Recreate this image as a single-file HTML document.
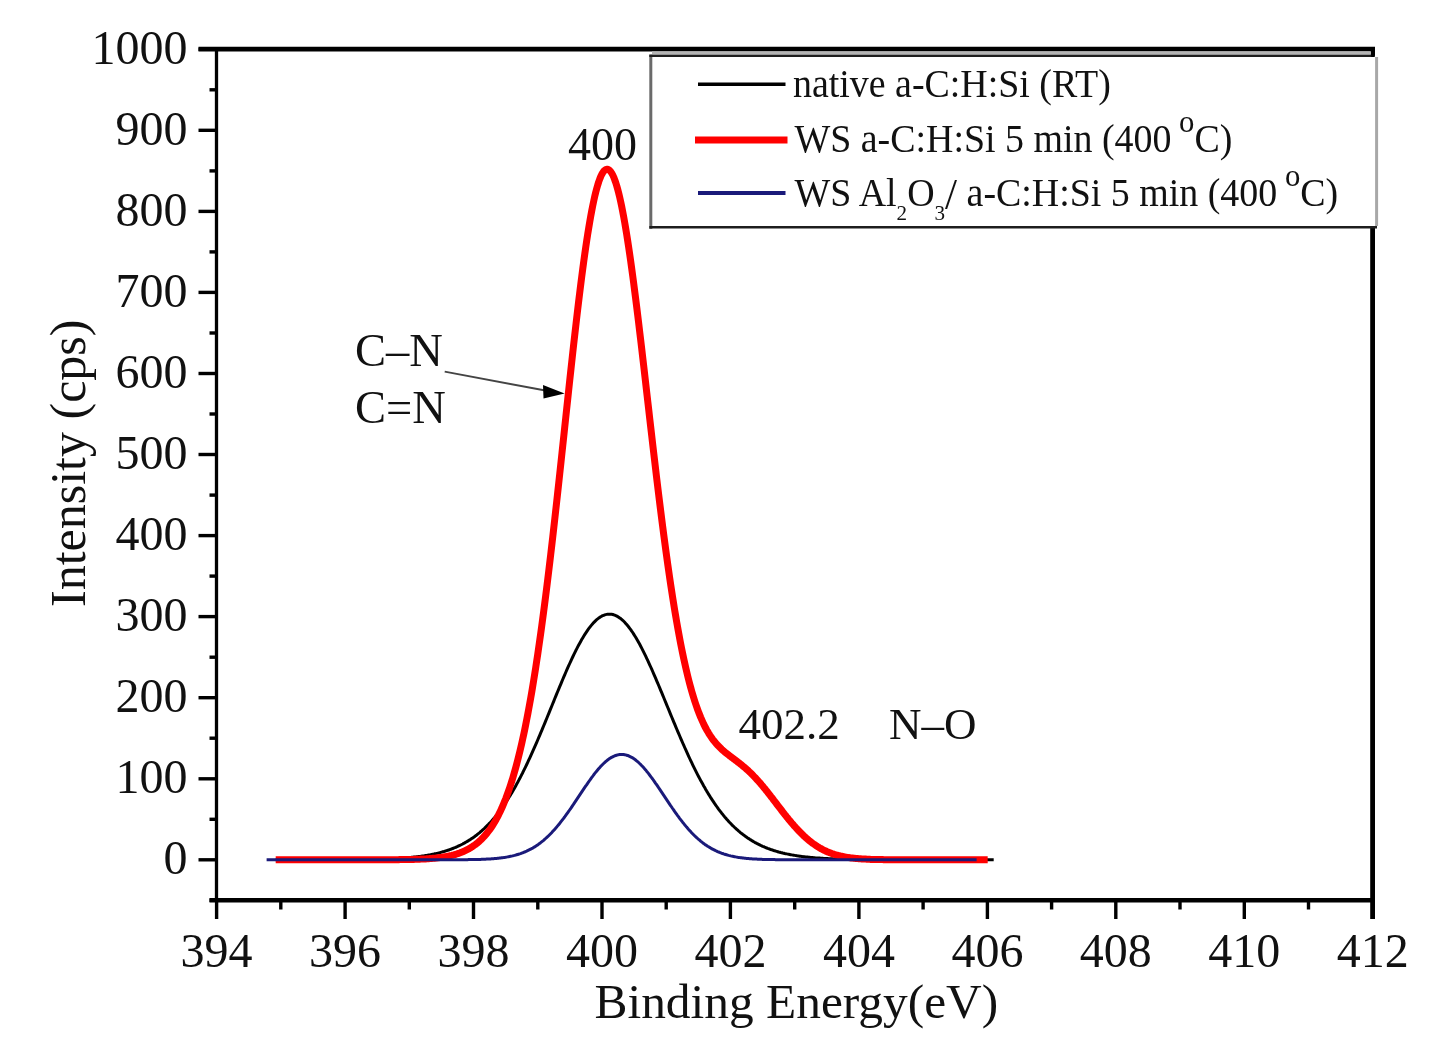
<!DOCTYPE html>
<html><head><meta charset="utf-8"><style>
html,body{margin:0;padding:0;background:#fff;}
svg{display:block;filter:blur(0.7px);}
text{font-family:"Liberation Serif",serif;fill:#111;}
</style></head><body>
<svg width="1451" height="1055" viewBox="0 0 1451 1055">
<rect width="1451" height="1055" fill="#fff"/>
<g fill="none" stroke-linejoin="round">
<path d="M275.7,859.8 L276.7,859.8 L277.7,859.8 L278.7,859.8 L279.7,859.8 L280.7,859.8 L281.7,859.8 L282.7,859.8 L283.7,859.8 L284.7,859.8 L285.7,859.8 L286.7,859.8 L287.7,859.8 L288.7,859.8 L289.7,859.8 L290.7,859.8 L291.7,859.8 L292.7,859.8 L293.7,859.8 L294.7,859.8 L295.7,859.8 L296.7,859.8 L297.7,859.8 L298.7,859.8 L299.7,859.8 L300.7,859.8 L301.7,859.8 L302.7,859.8 L303.7,859.8 L304.7,859.8 L305.7,859.8 L306.7,859.8 L307.7,859.8 L308.7,859.8 L309.7,859.8 L310.7,859.8 L311.7,859.8 L312.7,859.8 L313.7,859.8 L314.7,859.8 L315.7,859.8 L316.7,859.8 L317.7,859.8 L318.7,859.8 L319.7,859.8 L320.7,859.8 L321.7,859.8 L322.7,859.8 L323.7,859.8 L324.7,859.8 L325.7,859.8 L326.7,859.8 L327.7,859.8 L328.7,859.7 L329.7,859.7 L330.7,859.7 L331.7,859.7 L332.7,859.7 L333.7,859.7 L334.7,859.7 L335.7,859.7 L336.7,859.7 L337.7,859.7 L338.7,859.7 L339.7,859.7 L340.7,859.7 L341.7,859.7 L342.7,859.7 L343.7,859.7 L344.7,859.7 L345.7,859.7 L346.7,859.7 L347.7,859.7 L348.7,859.7 L349.7,859.6 L350.7,859.6 L351.7,859.6 L352.7,859.6 L353.7,859.6 L354.7,859.6 L355.7,859.6 L356.7,859.6 L357.7,859.6 L358.7,859.6 L359.7,859.5 L360.7,859.5 L361.7,859.5 L362.7,859.5 L363.7,859.5 L364.7,859.5 L365.7,859.5 L366.7,859.5 L367.7,859.4 L368.7,859.4 L369.7,859.4 L370.7,859.4 L371.7,859.4 L372.7,859.3 L373.7,859.3 L374.7,859.3 L375.7,859.3 L376.7,859.2 L377.7,859.2 L378.7,859.2 L379.7,859.2 L380.7,859.1 L381.7,859.1 L382.7,859.1 L383.7,859.0 L384.7,859.0 L385.7,859.0 L386.7,858.9 L387.7,858.9 L388.7,858.9 L389.7,858.8 L390.7,858.8 L391.7,858.7 L392.7,858.7 L393.7,858.6 L394.7,858.6 L395.7,858.5 L396.7,858.5 L397.7,858.4 L398.7,858.3 L399.7,858.3 L400.7,858.2 L401.7,858.2 L402.7,858.1 L403.7,858.0 L404.7,857.9 L405.7,857.9 L406.7,857.8 L407.7,857.7 L408.7,857.6 L409.7,857.5 L410.7,857.4 L411.7,857.3 L412.7,857.2 L413.7,857.1 L414.7,857.0 L415.7,856.9 L416.7,856.8 L417.7,856.7 L418.7,856.5 L419.7,856.4 L420.7,856.3 L421.7,856.1 L422.7,856.0 L423.7,855.9 L424.7,855.7 L425.7,855.5 L426.7,855.4 L427.7,855.2 L428.7,855.0 L429.7,854.9 L430.7,854.7 L431.7,854.5 L432.7,854.3 L433.7,854.1 L434.7,853.8 L435.7,853.6 L436.7,853.4 L437.7,853.2 L438.7,852.9 L439.7,852.7 L440.7,852.4 L441.7,852.1 L442.7,851.8 L443.7,851.6 L444.7,851.3 L445.7,850.9 L446.7,850.6 L447.7,850.3 L448.7,850.0 L449.7,849.6 L450.7,849.3 L451.7,848.9 L452.7,848.5 L453.7,848.1 L454.7,847.7 L455.7,847.3 L456.7,846.8 L457.7,846.4 L458.7,845.9 L459.7,845.5 L460.7,845.0 L461.7,844.5 L462.7,844.0 L463.7,843.4 L464.7,842.9 L465.7,842.3 L466.7,841.7 L467.7,841.1 L468.7,840.5 L469.7,839.9 L470.7,839.3 L471.7,838.6 L472.7,837.9 L473.7,837.2 L474.7,836.5 L475.7,835.7 L476.7,835.0 L477.7,834.2 L478.7,833.4 L479.7,832.6 L480.7,831.7 L481.7,830.8 L482.7,829.9 L483.7,829.0 L484.7,828.1 L485.7,827.1 L486.7,826.1 L487.7,825.1 L488.7,824.1 L489.7,823.0 L490.7,822.0 L491.7,820.9 L492.7,819.7 L493.7,818.6 L494.7,817.4 L495.7,816.2 L496.7,814.9 L497.7,813.6 L498.7,812.4 L499.7,811.0 L500.7,809.7 L501.7,808.3 L502.7,806.9 L503.7,805.4 L504.7,804.0 L505.7,802.5 L506.7,801.0 L507.7,799.4 L508.7,797.8 L509.7,796.2 L510.7,794.6 L511.7,792.9 L512.7,791.2 L513.7,789.5 L514.7,787.7 L515.7,785.9 L516.7,784.1 L517.7,782.3 L518.7,780.4 L519.7,778.5 L520.7,776.6 L521.7,774.6 L522.7,772.7 L523.7,770.6 L524.7,768.6 L525.7,766.6 L526.7,764.5 L527.7,762.4 L528.7,760.2 L529.7,758.1 L530.7,755.9 L531.7,753.7 L532.7,751.4 L533.7,749.2 L534.7,746.9 L535.7,744.6 L536.7,742.3 L537.7,740.0 L538.7,737.7 L539.7,735.3 L540.7,732.9 L541.7,730.6 L542.7,728.2 L543.7,725.7 L544.7,723.3 L545.7,720.9 L546.7,718.5 L547.7,716.0 L548.7,713.6 L549.7,711.1 L550.7,708.7 L551.7,706.2 L552.7,703.7 L553.7,701.3 L554.7,698.8 L555.7,696.4 L556.7,693.9 L557.7,691.5 L558.7,689.1 L559.7,686.7 L560.7,684.3 L561.7,681.9 L562.7,679.5 L563.7,677.2 L564.7,674.8 L565.7,672.5 L566.7,670.2 L567.7,667.9 L568.7,665.7 L569.7,663.5 L570.7,661.3 L571.7,659.1 L572.7,657.0 L573.7,654.9 L574.7,652.9 L575.7,650.8 L576.7,648.9 L577.7,646.9 L578.7,645.0 L579.7,643.2 L580.7,641.4 L581.7,639.6 L582.7,637.9 L583.7,636.2 L584.7,634.6 L585.7,633.1 L586.7,631.6 L587.7,630.1 L588.7,628.7 L589.7,627.4 L590.7,626.1 L591.7,624.9 L592.7,623.7 L593.7,622.6 L594.7,621.6 L595.7,620.6 L596.7,619.7 L597.7,618.9 L598.7,618.1 L599.7,617.4 L600.7,616.8 L601.7,616.2 L602.7,615.7 L603.7,615.3 L604.7,614.9 L605.7,614.6 L606.7,614.4 L607.7,614.2 L608.7,614.2 L609.7,614.2 L610.7,614.2 L611.7,614.3 L612.7,614.5 L613.7,614.8 L614.7,615.2 L615.7,615.6 L616.7,616.0 L617.7,616.6 L618.7,617.2 L619.7,617.9 L620.7,618.6 L621.7,619.5 L622.7,620.3 L623.7,621.3 L624.7,622.3 L625.7,623.4 L626.7,624.5 L627.7,625.7 L628.7,627.0 L629.7,628.3 L630.7,629.6 L631.7,631.1 L632.7,632.5 L633.7,634.1 L634.7,635.7 L635.7,637.3 L636.7,639.0 L637.7,640.7 L638.7,642.5 L639.7,644.3 L640.7,646.2 L641.7,648.1 L642.7,650.1 L643.7,652.1 L644.7,654.1 L645.7,656.2 L646.7,658.3 L647.7,660.4 L648.7,662.6 L649.7,664.8 L650.7,667.0 L651.7,669.2 L652.7,671.5 L653.7,673.8 L654.7,676.1 L655.7,678.4 L656.7,680.8 L657.7,683.1 L658.7,685.5 L659.7,687.9 L660.7,690.3 L661.7,692.7 L662.7,695.1 L663.7,697.5 L664.7,700.0 L665.7,702.4 L666.7,704.8 L667.7,707.3 L668.7,709.7 L669.7,712.1 L670.7,714.6 L671.7,717.0 L672.7,719.4 L673.7,721.8 L674.7,724.2 L675.7,726.6 L676.7,729.0 L677.7,731.4 L678.7,733.7 L679.7,736.0 L680.7,738.4 L681.7,740.7 L682.7,743.0 L683.7,745.2 L684.7,747.5 L685.7,749.7 L686.7,751.9 L687.7,754.1 L688.7,756.3 L689.7,758.5 L690.7,760.6 L691.7,762.7 L692.7,764.8 L693.7,766.8 L694.7,768.8 L695.7,770.8 L696.7,772.8 L697.7,774.8 L698.7,776.7 L699.7,778.6 L700.7,780.5 L701.7,782.3 L702.7,784.1 L703.7,785.9 L704.7,787.6 L705.7,789.4 L706.7,791.1 L707.7,792.7 L708.7,794.4 L709.7,796.0 L710.7,797.6 L711.7,799.1 L712.7,800.7 L713.7,802.2 L714.7,803.7 L715.7,805.1 L716.7,806.5 L717.7,807.9 L718.7,809.3 L719.7,810.6 L720.7,811.9 L721.7,813.2 L722.7,814.4 L723.7,815.7 L724.7,816.9 L725.7,818.0 L726.7,819.2 L727.7,820.3 L728.7,821.4 L729.7,822.5 L730.7,823.5 L731.7,824.6 L732.7,825.6 L733.7,826.5 L734.7,827.5 L735.7,828.4 L736.7,829.3 L737.7,830.2 L738.7,831.1 L739.7,831.9 L740.7,832.8 L741.7,833.6 L742.7,834.3 L743.7,835.1 L744.7,835.8 L745.7,836.6 L746.7,837.3 L747.7,838.0 L748.7,838.6 L749.7,839.3 L750.7,839.9 L751.7,840.5 L752.7,841.1 L753.7,841.7 L754.7,842.3 L755.7,842.8 L756.7,843.4 L757.7,843.9 L758.7,844.4 L759.7,844.9 L760.7,845.4 L761.7,845.8 L762.7,846.3 L763.7,846.7 L764.7,847.2 L765.7,847.6 L766.7,848.0 L767.7,848.4 L768.7,848.7 L769.7,849.1 L770.7,849.5 L771.7,849.8 L772.7,850.1 L773.7,850.5 L774.7,850.8 L775.7,851.1 L776.7,851.4 L777.7,851.7 L778.7,852.0 L779.7,852.2 L780.7,852.5 L781.7,852.7 L782.7,853.0 L783.7,853.2 L784.7,853.5 L785.7,853.7 L786.7,853.9 L787.7,854.1 L788.7,854.3 L789.7,854.5 L790.7,854.7 L791.7,854.9 L792.7,855.1 L793.7,855.2 L794.7,855.4 L795.7,855.6 L796.7,855.7 L797.7,855.9 L798.7,856.0 L799.7,856.2 L800.7,856.3 L801.7,856.4 L802.7,856.6 L803.7,856.7 L804.7,856.8 L805.7,856.9 L806.7,857.0 L807.7,857.1 L808.7,857.2 L809.7,857.3 L810.7,857.4 L811.7,857.5 L812.7,857.6 L813.7,857.7 L814.7,857.8 L815.7,857.9 L816.7,857.9 L817.7,858.0 L818.7,858.1 L819.7,858.1 L820.7,858.2 L821.7,858.3 L822.7,858.3 L823.7,858.4 L824.7,858.5 L825.7,858.5 L826.7,858.6 L827.7,858.6 L828.7,858.7 L829.7,858.7 L830.7,858.8 L831.7,858.8 L832.7,858.8 L833.7,858.9 L834.7,858.9 L835.7,859.0 L836.7,859.0 L837.7,859.0 L838.7,859.1 L839.7,859.1 L840.7,859.1 L841.7,859.2 L842.7,859.2 L843.7,859.2 L844.7,859.2 L845.7,859.3 L846.7,859.3 L847.7,859.3 L848.7,859.3 L849.7,859.4 L850.7,859.4 L851.7,859.4 L852.7,859.4 L853.7,859.4 L854.7,859.4 L855.7,859.5 L856.7,859.5 L857.7,859.5 L858.7,859.5 L859.7,859.5 L860.7,859.5 L861.7,859.5 L862.7,859.6 L863.7,859.6 L864.7,859.6 L865.7,859.6 L866.7,859.6 L867.7,859.6 L868.7,859.6 L869.7,859.6 L870.7,859.6 L871.7,859.6 L872.7,859.7 L873.7,859.7 L874.7,859.7 L875.7,859.7 L876.7,859.7 L877.7,859.7 L878.7,859.7 L879.7,859.7 L880.7,859.7 L881.7,859.7 L882.7,859.7 L883.7,859.7 L884.7,859.7 L885.7,859.7 L886.7,859.7 L887.7,859.7 L888.7,859.7 L889.7,859.7 L890.7,859.7 L891.7,859.7 L892.7,859.7 L893.7,859.8 L894.7,859.8 L895.7,859.8 L896.7,859.8 L897.7,859.8 L898.7,859.8 L899.7,859.8 L900.7,859.8 L901.7,859.8 L902.7,859.8 L903.7,859.8 L904.7,859.8 L905.7,859.8 L906.7,859.8 L907.7,859.8 L908.7,859.8 L909.7,859.8 L910.7,859.8 L911.7,859.8 L912.7,859.8 L913.7,859.8 L914.7,859.8 L915.7,859.8 L916.7,859.8 L917.7,859.8 L918.7,859.8 L919.7,859.8 L920.7,859.8 L921.7,859.8 L922.7,859.8 L923.7,859.8 L924.7,859.8 L925.7,859.8 L926.7,859.8 L927.7,859.8 L928.7,859.8 L929.7,859.8 L930.7,859.8 L931.7,859.8 L932.7,859.8 L933.7,859.8 L934.7,859.8 L935.7,859.8 L936.7,859.8 L937.7,859.8 L938.7,859.8 L939.7,859.8 L940.7,859.8 L941.7,859.8 L942.7,859.8 L943.7,859.8 L944.7,859.8 L945.7,859.8 L946.7,859.8 L947.7,859.8 L948.7,859.8 L949.7,859.8 L950.7,859.8 L951.7,859.8 L952.7,859.8 L953.7,859.8 L954.7,859.8 L955.7,859.8 L956.7,859.8 L957.7,859.8 L958.7,859.8 L959.7,859.8 L960.7,859.8 L961.7,859.8 L962.7,859.8 L963.7,859.8 L964.7,859.8 L965.7,859.8 L966.7,859.8 L967.7,859.8 L968.7,859.8 L969.7,859.8 L970.7,859.8 L971.7,859.8 L972.7,859.8 L973.7,859.8 L974.7,859.8 L975.7,859.8 L976.7,859.8 L977.7,859.8 L978.7,859.8 L979.7,859.8 L980.7,859.8 L981.7,859.8 L982.7,859.8 L983.7,859.8 L984.7,859.8 L985.7,859.8 L986.7,859.8 L987.7,859.8 L988.7,859.8 L989.7,859.8 L990.7,859.8 L991.7,859.8 L992.7,859.8 L993.7,859.8" stroke="#000" stroke-width="3"/>
<path d="M275.7,859.8 L276.7,859.8 L277.7,859.8 L278.7,859.8 L279.7,859.8 L280.7,859.8 L281.7,859.8 L282.7,859.8 L283.7,859.8 L284.7,859.8 L285.7,859.8 L286.7,859.8 L287.7,859.8 L288.7,859.8 L289.7,859.8 L290.7,859.8 L291.7,859.8 L292.7,859.8 L293.7,859.8 L294.7,859.8 L295.7,859.8 L296.7,859.8 L297.7,859.8 L298.7,859.8 L299.7,859.8 L300.7,859.8 L301.7,859.8 L302.7,859.8 L303.7,859.8 L304.7,859.8 L305.7,859.8 L306.7,859.8 L307.7,859.8 L308.7,859.8 L309.7,859.8 L310.7,859.8 L311.7,859.8 L312.7,859.8 L313.7,859.8 L314.7,859.8 L315.7,859.8 L316.7,859.8 L317.7,859.8 L318.7,859.8 L319.7,859.8 L320.7,859.8 L321.7,859.8 L322.7,859.8 L323.7,859.8 L324.7,859.8 L325.7,859.8 L326.7,859.8 L327.7,859.8 L328.7,859.8 L329.7,859.8 L330.7,859.8 L331.7,859.8 L332.7,859.8 L333.7,859.8 L334.7,859.8 L335.7,859.8 L336.7,859.8 L337.7,859.8 L338.7,859.8 L339.7,859.8 L340.7,859.8 L341.7,859.8 L342.7,859.8 L343.7,859.8 L344.7,859.8 L345.7,859.8 L346.7,859.8 L347.7,859.8 L348.7,859.8 L349.7,859.8 L350.7,859.8 L351.7,859.8 L352.7,859.8 L353.7,859.8 L354.7,859.8 L355.7,859.8 L356.7,859.8 L357.7,859.8 L358.7,859.8 L359.7,859.8 L360.7,859.8 L361.7,859.8 L362.7,859.8 L363.7,859.8 L364.7,859.8 L365.7,859.8 L366.7,859.8 L367.7,859.8 L368.7,859.8 L369.7,859.8 L370.7,859.8 L371.7,859.8 L372.7,859.8 L373.7,859.8 L374.7,859.8 L375.7,859.8 L376.7,859.8 L377.7,859.8 L378.7,859.8 L379.7,859.8 L380.7,859.8 L381.7,859.8 L382.7,859.8 L383.7,859.8 L384.7,859.7 L385.7,859.7 L386.7,859.7 L387.7,859.7 L388.7,859.7 L389.7,859.7 L390.7,859.7 L391.7,859.7 L392.7,859.7 L393.7,859.7 L394.7,859.7 L395.7,859.7 L396.7,859.7 L397.7,859.7 L398.7,859.7 L399.7,859.6 L400.7,859.6 L401.7,859.6 L402.7,859.6 L403.7,859.6 L404.7,859.6 L405.7,859.6 L406.7,859.5 L407.7,859.5 L408.7,859.5 L409.7,859.5 L410.7,859.5 L411.7,859.4 L412.7,859.4 L413.7,859.4 L414.7,859.3 L415.7,859.3 L416.7,859.3 L417.7,859.2 L418.7,859.2 L419.7,859.2 L420.7,859.1 L421.7,859.1 L422.7,859.0 L423.7,859.0 L424.7,858.9 L425.7,858.9 L426.7,858.8 L427.7,858.7 L428.7,858.7 L429.7,858.6 L430.7,858.5 L431.7,858.4 L432.7,858.3 L433.7,858.3 L434.7,858.2 L435.7,858.1 L436.7,857.9 L437.7,857.8 L438.7,857.7 L439.7,857.6 L440.7,857.4 L441.7,857.3 L442.7,857.2 L443.7,857.0 L444.7,856.8 L445.7,856.7 L446.7,856.5 L447.7,856.3 L448.7,856.1 L449.7,855.8 L450.7,855.6 L451.7,855.4 L452.7,855.1 L453.7,854.9 L454.7,854.6 L455.7,854.3 L456.7,854.0 L457.7,853.7 L458.7,853.3 L459.7,853.0 L460.7,852.6 L461.7,852.2 L462.7,851.8 L463.7,851.3 L464.7,850.9 L465.7,850.4 L466.7,849.9 L467.7,849.4 L468.7,848.9 L469.7,848.3 L470.7,847.7 L471.7,847.1 L472.7,846.4 L473.7,845.7 L474.7,845.0 L475.7,844.3 L476.7,843.5 L477.7,842.7 L478.7,841.8 L479.7,840.9 L480.7,840.0 L481.7,839.0 L482.7,838.0 L483.7,836.9 L484.7,835.8 L485.7,834.7 L486.7,833.5 L487.7,832.2 L488.7,830.9 L489.7,829.6 L490.7,828.2 L491.7,826.7 L492.7,825.2 L493.7,823.6 L494.7,821.9 L495.7,820.2 L496.7,818.4 L497.7,816.5 L498.7,814.6 L499.7,812.5 L500.7,810.4 L501.7,808.3 L502.7,806.0 L503.7,803.6 L504.7,801.2 L505.7,798.7 L506.7,796.0 L507.7,793.3 L508.7,790.5 L509.7,787.6 L510.7,784.5 L511.7,781.4 L512.7,778.2 L513.7,774.8 L514.7,771.3 L515.7,767.7 L516.7,764.0 L517.7,760.2 L518.7,756.2 L519.7,752.1 L520.7,747.9 L521.7,743.6 L522.7,739.1 L523.7,734.4 L524.7,729.7 L525.7,724.8 L526.7,719.7 L527.7,714.5 L528.7,709.2 L529.7,703.7 L530.7,698.1 L531.7,692.3 L532.7,686.4 L533.7,680.3 L534.7,674.0 L535.7,667.7 L536.7,661.1 L537.7,654.4 L538.7,647.6 L539.7,640.6 L540.7,633.5 L541.7,626.2 L542.7,618.8 L543.7,611.2 L544.7,603.5 L545.7,595.7 L546.7,587.7 L547.7,579.6 L548.7,571.4 L549.7,563.0 L550.7,554.6 L551.7,546.0 L552.7,537.3 L553.7,528.5 L554.7,519.6 L555.7,510.7 L556.7,501.6 L557.7,492.5 L558.7,483.3 L559.7,474.1 L560.7,464.8 L561.7,455.5 L562.7,446.2 L563.7,436.8 L564.7,427.4 L565.7,418.0 L566.7,408.7 L567.7,399.3 L568.7,390.0 L569.7,380.7 L570.7,371.5 L571.7,362.3 L572.7,353.2 L573.7,344.2 L574.7,335.3 L575.7,326.6 L576.7,317.9 L577.7,309.4 L578.7,301.0 L579.7,292.8 L580.7,284.8 L581.7,276.9 L582.7,269.3 L583.7,261.8 L584.7,254.6 L585.7,247.6 L586.7,240.8 L587.7,234.3 L588.7,228.1 L589.7,222.1 L590.7,216.4 L591.7,211.0 L592.7,205.9 L593.7,201.1 L594.7,196.6 L595.7,192.4 L596.7,188.6 L597.7,185.1 L598.7,181.9 L599.7,179.1 L600.7,176.6 L601.7,174.5 L602.7,172.7 L603.7,171.3 L604.7,170.3 L605.7,169.6 L606.7,169.3 L607.7,169.3 L608.7,169.7 L609.7,170.5 L610.7,171.6 L611.7,173.1 L612.7,174.9 L613.7,177.1 L614.7,179.7 L615.7,182.5 L616.7,185.7 L617.7,189.3 L618.7,193.1 L619.7,197.3 L620.7,201.7 L621.7,206.5 L622.7,211.6 L623.7,216.9 L624.7,222.5 L625.7,228.4 L626.7,234.5 L627.7,240.9 L628.7,247.5 L629.7,254.3 L630.7,261.3 L631.7,268.5 L632.7,275.9 L633.7,283.4 L634.7,291.2 L635.7,299.0 L636.7,307.0 L637.7,315.2 L638.7,323.4 L639.7,331.8 L640.7,340.2 L641.7,348.7 L642.7,357.3 L643.7,365.9 L644.7,374.6 L645.7,383.3 L646.7,392.1 L647.7,400.8 L648.7,409.5 L649.7,418.3 L650.7,427.0 L651.7,435.7 L652.7,444.3 L653.7,452.9 L654.7,461.4 L655.7,469.9 L656.7,478.3 L657.7,486.6 L658.7,494.9 L659.7,503.0 L660.7,511.0 L661.7,519.0 L662.7,526.8 L663.7,534.5 L664.7,542.0 L665.7,549.5 L666.7,556.8 L667.7,564.0 L668.7,571.0 L669.7,577.9 L670.7,584.7 L671.7,591.3 L672.7,597.7 L673.7,604.0 L674.7,610.2 L675.7,616.2 L676.7,622.0 L677.7,627.7 L678.7,633.2 L679.7,638.6 L680.7,643.8 L681.7,648.9 L682.7,653.8 L683.7,658.5 L684.7,663.1 L685.7,667.5 L686.7,671.8 L687.7,676.0 L688.7,680.0 L689.7,683.8 L690.7,687.5 L691.7,691.1 L692.7,694.5 L693.7,697.8 L694.7,701.0 L695.7,704.0 L696.7,706.9 L697.7,709.7 L698.7,712.4 L699.7,714.9 L700.7,717.4 L701.7,719.7 L702.7,721.9 L703.7,724.1 L704.7,726.1 L705.7,728.0 L706.7,729.9 L707.7,731.6 L708.7,733.3 L709.7,734.9 L710.7,736.4 L711.7,737.9 L712.7,739.3 L713.7,740.6 L714.7,741.8 L715.7,743.0 L716.7,744.2 L717.7,745.3 L718.7,746.3 L719.7,747.3 L720.7,748.3 L721.7,749.3 L722.7,750.2 L723.7,751.0 L724.7,751.9 L725.7,752.7 L726.7,753.5 L727.7,754.3 L728.7,755.1 L729.7,755.9 L730.7,756.6 L731.7,757.4 L732.7,758.1 L733.7,758.9 L734.7,759.6 L735.7,760.4 L736.7,761.1 L737.7,761.9 L738.7,762.7 L739.7,763.4 L740.7,764.2 L741.7,765.0 L742.7,765.9 L743.7,766.7 L744.7,767.5 L745.7,768.4 L746.7,769.3 L747.7,770.2 L748.7,771.1 L749.7,772.1 L750.7,773.0 L751.7,774.0 L752.7,775.0 L753.7,776.1 L754.7,777.1 L755.7,778.2 L756.7,779.3 L757.7,780.4 L758.7,781.5 L759.7,782.6 L760.7,783.8 L761.7,785.0 L762.7,786.1 L763.7,787.4 L764.7,788.6 L765.7,789.8 L766.7,791.1 L767.7,792.3 L768.7,793.6 L769.7,794.9 L770.7,796.2 L771.7,797.4 L772.7,798.7 L773.7,800.1 L774.7,801.4 L775.7,802.7 L776.7,804.0 L777.7,805.3 L778.7,806.6 L779.7,807.9 L780.7,809.2 L781.7,810.5 L782.7,811.8 L783.7,813.1 L784.7,814.4 L785.7,815.6 L786.7,816.9 L787.7,818.1 L788.7,819.4 L789.7,820.6 L790.7,821.8 L791.7,823.0 L792.7,824.1 L793.7,825.3 L794.7,826.4 L795.7,827.5 L796.7,828.6 L797.7,829.7 L798.7,830.8 L799.7,831.8 L800.7,832.8 L801.7,833.8 L802.7,834.8 L803.7,835.8 L804.7,836.7 L805.7,837.6 L806.7,838.5 L807.7,839.3 L808.7,840.2 L809.7,841.0 L810.7,841.8 L811.7,842.6 L812.7,843.3 L813.7,844.0 L814.7,844.7 L815.7,845.4 L816.7,846.1 L817.7,846.7 L818.7,847.3 L819.7,847.9 L820.7,848.5 L821.7,849.0 L822.7,849.6 L823.7,850.1 L824.7,850.6 L825.7,851.0 L826.7,851.5 L827.7,851.9 L828.7,852.3 L829.7,852.7 L830.7,853.1 L831.7,853.5 L832.7,853.8 L833.7,854.2 L834.7,854.5 L835.7,854.8 L836.7,855.1 L837.7,855.3 L838.7,855.6 L839.7,855.8 L840.7,856.1 L841.7,856.3 L842.7,856.5 L843.7,856.7 L844.7,856.9 L845.7,857.1 L846.7,857.3 L847.7,857.4 L848.7,857.6 L849.7,857.7 L850.7,857.9 L851.7,858.0 L852.7,858.1 L853.7,858.2 L854.7,858.3 L855.7,858.4 L856.7,858.5 L857.7,858.6 L858.7,858.7 L859.7,858.8 L860.7,858.8 L861.7,858.9 L862.7,859.0 L863.7,859.0 L864.7,859.1 L865.7,859.1 L866.7,859.2 L867.7,859.2 L868.7,859.3 L869.7,859.3 L870.7,859.4 L871.7,859.4 L872.7,859.4 L873.7,859.5 L874.7,859.5 L875.7,859.5 L876.7,859.5 L877.7,859.6 L878.7,859.6 L879.7,859.6 L880.7,859.6 L881.7,859.6 L882.7,859.6 L883.7,859.7 L884.7,859.7 L885.7,859.7 L886.7,859.7 L887.7,859.7 L888.7,859.7 L889.7,859.7 L890.7,859.7 L891.7,859.7 L892.7,859.7 L893.7,859.7 L894.7,859.7 L895.7,859.8 L896.7,859.8 L897.7,859.8 L898.7,859.8 L899.7,859.8 L900.7,859.8 L901.7,859.8 L902.7,859.8 L903.7,859.8 L904.7,859.8 L905.7,859.8 L906.7,859.8 L907.7,859.8 L908.7,859.8 L909.7,859.8 L910.7,859.8 L911.7,859.8 L912.7,859.8 L913.7,859.8 L914.7,859.8 L915.7,859.8 L916.7,859.8 L917.7,859.8 L918.7,859.8 L919.7,859.8 L920.7,859.8 L921.7,859.8 L922.7,859.8 L923.7,859.8 L924.7,859.8 L925.7,859.8 L926.7,859.8 L927.7,859.8 L928.7,859.8 L929.7,859.8 L930.7,859.8 L931.7,859.8 L932.7,859.8 L933.7,859.8 L934.7,859.8 L935.7,859.8 L936.7,859.8 L937.7,859.8 L938.7,859.8 L939.7,859.8 L940.7,859.8 L941.7,859.8 L942.7,859.8 L943.7,859.8 L944.7,859.8 L945.7,859.8 L946.7,859.8 L947.7,859.8 L948.7,859.8 L949.7,859.8 L950.7,859.8 L951.7,859.8 L952.7,859.8 L953.7,859.8 L954.7,859.8 L955.7,859.8 L956.7,859.8 L957.7,859.8 L958.7,859.8 L959.7,859.8 L960.7,859.8 L961.7,859.8 L962.7,859.8 L963.7,859.8 L964.7,859.8 L965.7,859.8 L966.7,859.8 L967.7,859.8 L968.7,859.8 L969.7,859.8 L970.7,859.8 L971.7,859.8 L972.7,859.8 L973.7,859.8 L974.7,859.8 L975.7,859.8 L976.7,859.8 L977.7,859.8 L978.7,859.8 L979.7,859.8 L980.7,859.8 L981.7,859.8 L982.7,859.8 L983.7,859.8 L984.7,859.8 L985.7,859.8 L986.7,859.8 L987.7,859.8" stroke="#ff0000" stroke-width="7"/>
<path d="M266.6,859.8 L267.6,859.8 L268.6,859.8 L269.6,859.8 L270.6,859.8 L271.6,859.8 L272.6,859.8 L273.6,859.8 L274.6,859.8 L275.6,859.8 L276.6,859.8 L277.6,859.8 L278.6,859.8 L279.6,859.8 L280.6,859.8 L281.6,859.8 L282.6,859.8 L283.6,859.8 L284.6,859.8 L285.6,859.8 L286.6,859.8 L287.6,859.8 L288.6,859.8 L289.6,859.8 L290.6,859.8 L291.6,859.8 L292.6,859.8 L293.6,859.8 L294.6,859.8 L295.6,859.8 L296.6,859.8 L297.6,859.8 L298.6,859.8 L299.6,859.8 L300.6,859.8 L301.6,859.8 L302.6,859.8 L303.6,859.8 L304.6,859.8 L305.6,859.8 L306.6,859.8 L307.6,859.8 L308.6,859.8 L309.6,859.8 L310.6,859.8 L311.6,859.8 L312.6,859.8 L313.6,859.8 L314.6,859.8 L315.6,859.8 L316.6,859.8 L317.6,859.8 L318.6,859.8 L319.6,859.8 L320.6,859.8 L321.6,859.8 L322.6,859.8 L323.6,859.8 L324.6,859.8 L325.6,859.8 L326.6,859.8 L327.6,859.8 L328.6,859.8 L329.6,859.8 L330.6,859.8 L331.6,859.8 L332.6,859.8 L333.6,859.8 L334.6,859.8 L335.6,859.8 L336.6,859.8 L337.6,859.8 L338.6,859.8 L339.6,859.8 L340.6,859.8 L341.6,859.8 L342.6,859.8 L343.6,859.8 L344.6,859.8 L345.6,859.8 L346.6,859.8 L347.6,859.8 L348.6,859.8 L349.6,859.8 L350.6,859.8 L351.6,859.8 L352.6,859.8 L353.6,859.8 L354.6,859.8 L355.6,859.8 L356.6,859.8 L357.6,859.8 L358.6,859.8 L359.6,859.8 L360.6,859.8 L361.6,859.8 L362.6,859.8 L363.6,859.8 L364.6,859.8 L365.6,859.8 L366.6,859.8 L367.6,859.8 L368.6,859.8 L369.6,859.8 L370.6,859.8 L371.6,859.8 L372.6,859.8 L373.6,859.8 L374.6,859.8 L375.6,859.8 L376.6,859.8 L377.6,859.8 L378.6,859.8 L379.6,859.8 L380.6,859.8 L381.6,859.8 L382.6,859.8 L383.6,859.8 L384.6,859.8 L385.6,859.8 L386.6,859.8 L387.6,859.8 L388.6,859.8 L389.6,859.8 L390.6,859.8 L391.6,859.8 L392.6,859.8 L393.6,859.8 L394.6,859.8 L395.6,859.8 L396.6,859.8 L397.6,859.8 L398.6,859.8 L399.6,859.8 L400.6,859.8 L401.6,859.8 L402.6,859.8 L403.6,859.8 L404.6,859.8 L405.6,859.8 L406.6,859.8 L407.6,859.8 L408.6,859.8 L409.6,859.8 L410.6,859.8 L411.6,859.8 L412.6,859.8 L413.6,859.8 L414.6,859.8 L415.6,859.8 L416.6,859.8 L417.6,859.8 L418.6,859.8 L419.6,859.8 L420.6,859.8 L421.6,859.8 L422.6,859.8 L423.6,859.8 L424.6,859.8 L425.6,859.8 L426.6,859.8 L427.6,859.8 L428.6,859.8 L429.6,859.8 L430.6,859.8 L431.6,859.8 L432.6,859.8 L433.6,859.8 L434.6,859.8 L435.6,859.8 L436.6,859.8 L437.6,859.8 L438.6,859.8 L439.6,859.8 L440.6,859.8 L441.6,859.8 L442.6,859.8 L443.6,859.8 L444.6,859.8 L445.6,859.8 L446.6,859.8 L447.6,859.8 L448.6,859.8 L449.6,859.8 L450.6,859.8 L451.6,859.8 L452.6,859.8 L453.6,859.8 L454.6,859.8 L455.6,859.7 L456.6,859.7 L457.6,859.7 L458.6,859.7 L459.6,859.7 L460.6,859.7 L461.6,859.7 L462.6,859.7 L463.6,859.7 L464.6,859.7 L465.6,859.7 L466.6,859.7 L467.6,859.7 L468.6,859.6 L469.6,859.6 L470.6,859.6 L471.6,859.6 L472.6,859.6 L473.6,859.6 L474.6,859.5 L475.6,859.5 L476.6,859.5 L477.6,859.5 L478.6,859.4 L479.6,859.4 L480.6,859.4 L481.6,859.3 L482.6,859.3 L483.6,859.3 L484.6,859.2 L485.6,859.2 L486.6,859.1 L487.6,859.1 L488.6,859.0 L489.6,859.0 L490.6,858.9 L491.6,858.8 L492.6,858.8 L493.6,858.7 L494.6,858.6 L495.6,858.5 L496.6,858.4 L497.6,858.3 L498.6,858.2 L499.6,858.1 L500.6,858.0 L501.6,857.8 L502.6,857.7 L503.6,857.6 L504.6,857.4 L505.6,857.3 L506.6,857.1 L507.6,856.9 L508.6,856.7 L509.6,856.5 L510.6,856.3 L511.6,856.1 L512.6,855.9 L513.6,855.6 L514.6,855.4 L515.6,855.1 L516.6,854.8 L517.6,854.5 L518.6,854.2 L519.6,853.9 L520.6,853.6 L521.6,853.2 L522.6,852.8 L523.6,852.4 L524.6,852.0 L525.6,851.6 L526.6,851.2 L527.6,850.7 L528.6,850.2 L529.6,849.7 L530.6,849.2 L531.6,848.6 L532.6,848.1 L533.6,847.5 L534.6,846.9 L535.6,846.2 L536.6,845.6 L537.6,844.9 L538.6,844.2 L539.6,843.4 L540.6,842.7 L541.6,841.9 L542.6,841.1 L543.6,840.3 L544.6,839.4 L545.6,838.5 L546.6,837.6 L547.6,836.7 L548.6,835.7 L549.6,834.7 L550.6,833.7 L551.6,832.7 L552.6,831.6 L553.6,830.5 L554.6,829.4 L555.6,828.3 L556.6,827.1 L557.6,825.9 L558.6,824.7 L559.6,823.5 L560.6,822.2 L561.6,820.9 L562.6,819.6 L563.6,818.3 L564.6,817.0 L565.6,815.6 L566.6,814.2 L567.6,812.8 L568.6,811.4 L569.6,810.0 L570.6,808.6 L571.6,807.1 L572.6,805.6 L573.6,804.2 L574.6,802.7 L575.6,801.2 L576.6,799.7 L577.6,798.2 L578.6,796.7 L579.6,795.2 L580.6,793.7 L581.6,792.2 L582.6,790.7 L583.6,789.2 L584.6,787.7 L585.6,786.2 L586.6,784.8 L587.6,783.3 L588.6,781.9 L589.6,780.5 L590.6,779.1 L591.6,777.7 L592.6,776.4 L593.6,775.0 L594.6,773.7 L595.6,772.4 L596.6,771.2 L597.6,770.0 L598.6,768.8 L599.6,767.7 L600.6,766.6 L601.6,765.5 L602.6,764.5 L603.6,763.5 L604.6,762.6 L605.6,761.7 L606.6,760.8 L607.6,760.0 L608.6,759.3 L609.6,758.6 L610.6,757.9 L611.6,757.3 L612.6,756.8 L613.6,756.3 L614.6,755.9 L615.6,755.5 L616.6,755.2 L617.6,754.9 L618.6,754.7 L619.6,754.6 L620.6,754.5 L621.6,754.4 L622.6,754.5 L623.6,754.5 L624.6,754.7 L625.6,754.9 L626.6,755.2 L627.6,755.5 L628.6,755.8 L629.6,756.3 L630.6,756.8 L631.6,757.3 L632.6,757.9 L633.6,758.5 L634.6,759.2 L635.6,760.0 L636.6,760.8 L637.6,761.6 L638.6,762.5 L639.6,763.5 L640.6,764.4 L641.6,765.5 L642.6,766.5 L643.6,767.6 L644.6,768.8 L645.6,769.9 L646.6,771.2 L647.6,772.4 L648.6,773.7 L649.6,775.0 L650.6,776.3 L651.6,777.7 L652.6,779.0 L653.6,780.4 L654.6,781.8 L655.6,783.3 L656.6,784.7 L657.6,786.2 L658.6,787.7 L659.6,789.1 L660.6,790.6 L661.6,792.1 L662.6,793.6 L663.6,795.1 L664.6,796.6 L665.6,798.1 L666.6,799.6 L667.6,801.1 L668.6,802.6 L669.6,804.1 L670.6,805.6 L671.6,807.0 L672.6,808.5 L673.6,809.9 L674.6,811.4 L675.6,812.8 L676.6,814.2 L677.6,815.6 L678.6,816.9 L679.6,818.3 L680.6,819.6 L681.6,820.9 L682.6,822.2 L683.6,823.4 L684.6,824.7 L685.6,825.9 L686.6,827.1 L687.6,828.2 L688.6,829.4 L689.6,830.5 L690.6,831.6 L691.6,832.7 L692.6,833.7 L693.6,834.7 L694.6,835.7 L695.6,836.7 L696.6,837.6 L697.6,838.5 L698.6,839.4 L699.6,840.2 L700.6,841.1 L701.6,841.9 L702.6,842.7 L703.6,843.4 L704.6,844.2 L705.6,844.9 L706.6,845.5 L707.6,846.2 L708.6,846.8 L709.6,847.4 L710.6,848.0 L711.6,848.6 L712.6,849.2 L713.6,849.7 L714.6,850.2 L715.6,850.7 L716.6,851.1 L717.6,851.6 L718.6,852.0 L719.6,852.4 L720.6,852.8 L721.6,853.2 L722.6,853.5 L723.6,853.9 L724.6,854.2 L725.6,854.5 L726.6,854.8 L727.6,855.1 L728.6,855.4 L729.6,855.6 L730.6,855.9 L731.6,856.1 L732.6,856.3 L733.6,856.5 L734.6,856.7 L735.6,856.9 L736.6,857.1 L737.6,857.3 L738.6,857.4 L739.6,857.6 L740.6,857.7 L741.6,857.8 L742.6,858.0 L743.6,858.1 L744.6,858.2 L745.6,858.3 L746.6,858.4 L747.6,858.5 L748.6,858.6 L749.6,858.7 L750.6,858.7 L751.6,858.8 L752.6,858.9 L753.6,859.0 L754.6,859.0 L755.6,859.1 L756.6,859.1 L757.6,859.2 L758.6,859.2 L759.6,859.3 L760.6,859.3 L761.6,859.3 L762.6,859.4 L763.6,859.4 L764.6,859.4 L765.6,859.5 L766.6,859.5 L767.6,859.5 L768.6,859.5 L769.6,859.6 L770.6,859.6 L771.6,859.6 L772.6,859.6 L773.6,859.6 L774.6,859.6 L775.6,859.7 L776.6,859.7 L777.6,859.7 L778.6,859.7 L779.6,859.7 L780.6,859.7 L781.6,859.7 L782.6,859.7 L783.6,859.7 L784.6,859.7 L785.6,859.7 L786.6,859.7 L787.6,859.7 L788.6,859.8 L789.6,859.8 L790.6,859.8 L791.6,859.8 L792.6,859.8 L793.6,859.8 L794.6,859.8 L795.6,859.8 L796.6,859.8 L797.6,859.8 L798.6,859.8 L799.6,859.8 L800.6,859.8 L801.6,859.8 L802.6,859.8 L803.6,859.8 L804.6,859.8 L805.6,859.8 L806.6,859.8 L807.6,859.8 L808.6,859.8 L809.6,859.8 L810.6,859.8 L811.6,859.8 L812.6,859.8 L813.6,859.8 L814.6,859.8 L815.6,859.8 L816.6,859.8 L817.6,859.8 L818.6,859.8 L819.6,859.8 L820.6,859.8 L821.6,859.8 L822.6,859.8 L823.6,859.8 L824.6,859.8 L825.6,859.8 L826.6,859.8 L827.6,859.8 L828.6,859.8 L829.6,859.8 L830.6,859.8 L831.6,859.8 L832.6,859.8 L833.6,859.8 L834.6,859.8 L835.6,859.8 L836.6,859.8 L837.6,859.8 L838.6,859.8 L839.6,859.8 L840.6,859.8 L841.6,859.8 L842.6,859.8 L843.6,859.8 L844.6,859.8 L845.6,859.8 L846.6,859.8 L847.6,859.8 L848.6,859.8 L849.6,859.8 L850.6,859.8 L851.6,859.8 L852.6,859.8 L853.6,859.8 L854.6,859.8 L855.6,859.8 L856.6,859.8 L857.6,859.8 L858.6,859.8 L859.6,859.8 L860.6,859.8 L861.6,859.8 L862.6,859.8 L863.6,859.8 L864.6,859.8 L865.6,859.8 L866.6,859.8 L867.6,859.8 L868.6,859.8 L869.6,859.8 L870.6,859.8 L871.6,859.8 L872.6,859.8 L873.6,859.8 L874.6,859.8 L875.6,859.8 L876.6,859.8 L877.6,859.8 L878.6,859.8 L879.6,859.8 L880.6,859.8 L881.6,859.8 L882.6,859.8 L883.6,859.8 L884.6,859.8 L885.6,859.8 L886.6,859.8 L887.6,859.8 L888.6,859.8 L889.6,859.8 L890.6,859.8 L891.6,859.8 L892.6,859.8 L893.6,859.8 L894.6,859.8 L895.6,859.8 L896.6,859.8 L897.6,859.8 L898.6,859.8 L899.6,859.8 L900.6,859.8 L901.6,859.8 L902.6,859.8 L903.6,859.8 L904.6,859.8 L905.6,859.8 L906.6,859.8 L907.6,859.8 L908.6,859.8 L909.6,859.8 L910.6,859.8 L911.6,859.8 L912.6,859.8 L913.6,859.8 L914.6,859.8 L915.6,859.8 L916.6,859.8 L917.6,859.8 L918.6,859.8 L919.6,859.8 L920.6,859.8 L921.6,859.8 L922.6,859.8 L923.6,859.8 L924.6,859.8 L925.6,859.8 L926.6,859.8 L927.6,859.8 L928.6,859.8 L929.6,859.8 L930.6,859.8 L931.6,859.8 L932.6,859.8 L933.6,859.8 L934.6,859.8 L935.6,859.8 L936.6,859.8 L937.6,859.8 L938.6,859.8 L939.6,859.8 L940.6,859.8 L941.6,859.8 L942.6,859.8 L943.6,859.8 L944.6,859.8 L945.6,859.8 L946.6,859.8 L947.6,859.8 L948.6,859.8 L949.6,859.8 L950.6,859.8 L951.6,859.8 L952.6,859.8 L953.6,859.8 L954.6,859.8 L955.6,859.8 L956.6,859.8 L957.6,859.8 L958.6,859.8 L959.6,859.8 L960.6,859.8 L961.6,859.8 L962.6,859.8 L963.6,859.8 L964.6,859.8 L965.6,859.8 L966.6,859.8 L967.6,859.8 L968.6,859.8 L969.6,859.8 L970.6,859.8 L971.6,859.8 L972.6,859.8 L973.6,859.8 L974.6,859.8 L975.6,859.8 L976.6,859.8" stroke="#1a1a7a" stroke-width="3"/>
</g>
<g stroke="#000" stroke-width="3.4">
<line x1="216.5" y1="47" x2="216.5" y2="902" stroke-width="3.3"/>
<line x1="198.5" y1="49.1" x2="1375" y2="49.1" stroke-width="4.6"/>
<line x1="209.5" y1="900.2" x2="1375" y2="900.2" stroke-width="4.6"/>
<line x1="1372.6" y1="47" x2="1372.6" y2="919" stroke-width="4.8"/>
<line x1="209.5" y1="900.3" x2="216.6" y2="900.3"/>
<line x1="198.5" y1="859.8" x2="216.6" y2="859.8"/>
<line x1="209.5" y1="819.3" x2="216.6" y2="819.3"/>
<line x1="198.5" y1="778.8" x2="216.6" y2="778.8"/>
<line x1="209.5" y1="738.2" x2="216.6" y2="738.2"/>
<line x1="198.5" y1="697.7" x2="216.6" y2="697.7"/>
<line x1="209.5" y1="657.2" x2="216.6" y2="657.2"/>
<line x1="198.5" y1="616.6" x2="216.6" y2="616.6"/>
<line x1="209.5" y1="576.1" x2="216.6" y2="576.1"/>
<line x1="198.5" y1="535.6" x2="216.6" y2="535.6"/>
<line x1="209.5" y1="495.1" x2="216.6" y2="495.1"/>
<line x1="198.5" y1="454.5" x2="216.6" y2="454.5"/>
<line x1="209.5" y1="414.0" x2="216.6" y2="414.0"/>
<line x1="198.5" y1="373.5" x2="216.6" y2="373.5"/>
<line x1="209.5" y1="333.0" x2="216.6" y2="333.0"/>
<line x1="198.5" y1="292.4" x2="216.6" y2="292.4"/>
<line x1="209.5" y1="251.9" x2="216.6" y2="251.9"/>
<line x1="198.5" y1="211.4" x2="216.6" y2="211.4"/>
<line x1="209.5" y1="170.9" x2="216.6" y2="170.9"/>
<line x1="198.5" y1="130.3" x2="216.6" y2="130.3"/>
<line x1="209.5" y1="89.8" x2="216.6" y2="89.8"/>
<line x1="198.5" y1="49.3" x2="216.6" y2="49.3"/>
<line x1="216.6" y1="899.8" x2="216.6" y2="919"/>
<line x1="280.8" y1="899.8" x2="280.8" y2="909.5"/>
<line x1="345.1" y1="899.8" x2="345.1" y2="919"/>
<line x1="409.3" y1="899.8" x2="409.3" y2="909.5"/>
<line x1="473.5" y1="899.8" x2="473.5" y2="919"/>
<line x1="537.8" y1="899.8" x2="537.8" y2="909.5"/>
<line x1="602.0" y1="899.8" x2="602.0" y2="919"/>
<line x1="666.2" y1="899.8" x2="666.2" y2="909.5"/>
<line x1="730.4" y1="899.8" x2="730.4" y2="919"/>
<line x1="794.7" y1="899.8" x2="794.7" y2="909.5"/>
<line x1="858.9" y1="899.8" x2="858.9" y2="919"/>
<line x1="923.1" y1="899.8" x2="923.1" y2="909.5"/>
<line x1="987.4" y1="899.8" x2="987.4" y2="919"/>
<line x1="1051.6" y1="899.8" x2="1051.6" y2="909.5"/>
<line x1="1115.8" y1="899.8" x2="1115.8" y2="919"/>
<line x1="1180.0" y1="899.8" x2="1180.0" y2="909.5"/>
<line x1="1244.3" y1="899.8" x2="1244.3" y2="919"/>
<line x1="1308.5" y1="899.8" x2="1308.5" y2="909.5"/>
<line x1="1372.7" y1="899.8" x2="1372.7" y2="919"/>
</g>
<g font-size="48">
<text x="187.5" y="874.0" text-anchor="end">0</text>
<text x="187.5" y="793.0" text-anchor="end">100</text>
<text x="187.5" y="711.9" text-anchor="end">200</text>
<text x="187.5" y="630.9" text-anchor="end">300</text>
<text x="187.5" y="549.8" text-anchor="end">400</text>
<text x="187.5" y="468.7" text-anchor="end">500</text>
<text x="187.5" y="387.7" text-anchor="end">600</text>
<text x="187.5" y="306.6" text-anchor="end">700</text>
<text x="187.5" y="225.6" text-anchor="end">800</text>
<text x="187.5" y="144.5" text-anchor="end">900</text>
<text x="187.5" y="63.5" text-anchor="end">1000</text>
<text x="216.6" y="967" text-anchor="middle">394</text>
<text x="345.1" y="967" text-anchor="middle">396</text>
<text x="473.5" y="967" text-anchor="middle">398</text>
<text x="602.0" y="967" text-anchor="middle">400</text>
<text x="730.4" y="967" text-anchor="middle">402</text>
<text x="858.9" y="967" text-anchor="middle">404</text>
<text x="987.4" y="967" text-anchor="middle">406</text>
<text x="1115.8" y="967" text-anchor="middle">408</text>
<text x="1244.3" y="967" text-anchor="middle">410</text>
<text x="1372.7" y="967" text-anchor="middle">412</text>
</g>
<text font-size="50" transform="translate(84.5,607) rotate(-90)">Intensity (cps)</text>
<text font-size="49.4" x="594.5" y="1017.5">Binding Energy(eV)</text>
<text font-size="46" x="568" y="160">400</text>
<text font-size="45" x="738.5" y="739">402.2</text>
<text font-size="45" x="889" y="739">N&#8211;O</text>
<text font-size="46.5" x="355" y="365.5">C&#8211;N</text>
<text font-size="46.5" x="355" y="422.5">C=N</text>
<g stroke="#444" stroke-width="1.8" fill="#000">
<line x1="444.7" y1="371.7" x2="548" y2="391"/>
<path d="M564.6,393.4 L543,385 L543.5,398.5 Z" stroke="none"/>
</g>
<rect x="650.8" y="55.9" width="725.8" height="171.5" fill="#fff" stroke="none"/>
<rect x="652" y="51.3" width="719" height="3.6" fill="#b4b4b4"/>
<line x1="650.8" y1="54.4" x2="650.8" y2="228.9" stroke="#6a6a6a" stroke-width="3"/>
<line x1="649.3" y1="55.9" x2="1374.5" y2="55.9" stroke="#1e1e1e" stroke-width="2.4"/>
<line x1="649.3" y1="227.3" x2="1377" y2="227.3" stroke="#1e1e1e" stroke-width="2.6"/>
<line x1="1376.6" y1="57" x2="1376.6" y2="226" stroke="#a8a8a8" stroke-width="3"/>
<line x1="1372.9" y1="47.6" x2="1372.9" y2="57" stroke="#000" stroke-width="3.4"/>
<g>
<line x1="698" y1="84.2" x2="785.5" y2="84.2" stroke="#000" stroke-width="3.5"/>
<line x1="695" y1="140" x2="787.5" y2="140" stroke="#ff0000" stroke-width="7"/>
<line x1="698" y1="192.9" x2="785.5" y2="192.9" stroke="#1a1a7a" stroke-width="4"/>
</g>
<g font-size="39.5" transform="translate(793,0) scale(0.96,1) translate(-793,0)">
<text x="793" y="97.5">native a-C:H:Si (RT)</text>
<text x="794.5" y="152">WS a-C:H:Si 5 min (400<tspan dx="8" font-size="32" dy="-20">o</tspan><tspan dy="20">C)</tspan></text>
<text x="794.5" y="206">WS Al<tspan font-size="22" dy="14">2</tspan><tspan dy="-14">O</tspan><tspan font-size="22" dy="14">3</tspan><tspan font-size="45" dy="-11">/</tspan><tspan dy="-3"> a-C:H:Si 5 min (400</tspan><tspan dx="8" font-size="32" dy="-20">o</tspan><tspan dy="20">C)</tspan></text>
</g>
</svg>
</body></html>
